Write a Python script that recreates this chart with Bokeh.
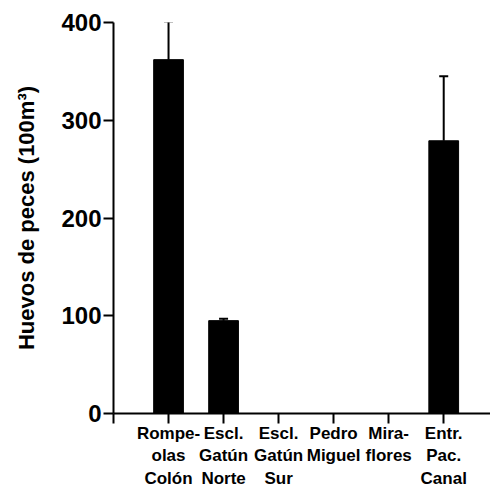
from bokeh.plotting import figure
from bokeh.models import Range1d, FixedTicker, Whisker, ColumnDataSource, TeeHead
from bokeh.embed import file_html
from bokeh.resources import INLINE

sites = ["Rompe-\nolas\nColón", "Escl.\nGatún\nNorte", "Escl.\nGatún\nSur",
         "Pedro\nMiguel", "Mira-\nflores", "Entr.\nPac.\nCanal"]
positions = [1, 2, 3, 4, 5, 6]
huevos = [362, 95, 0, 0, 0, 279]
error_sup = [401, 97, 0, 0, 0, 345]
y_ticks = [0, 100, 200, 300, 400]

p = figure(width=490, height=491, output_backend="svg", toolbar_location=None,
           x_range=Range1d(0, 6.85), y_range=Range1d(0, 400),
           min_border_left=113, min_border_top=22, min_border_bottom=76, min_border_right=0)
p.outline_line_color = None
p.xgrid.visible = False
p.ygrid.visible = False
p.background_fill_color = "white"

src = ColumnDataSource(dict(x=positions, top=huevos, upper=error_sup))
p.vbar(x="x", top="top", width=0.54, source=src, fill_color="black", line_color="black")

bars = [i for i, v in enumerate(huevos) if v > 0]
esrc = ColumnDataSource(dict(x=[positions[i] for i in bars],
                             lower=[huevos[i] for i in bars],
                             upper=[error_sup[i] for i in bars]))
w = Whisker(base="x", lower="lower", upper="upper", source=esrc, line_width=2, line_color="black",
            upper_head=TeeHead(size=9, line_width=2, line_color="black"), lower_head=None)
p.add_layout(w)

font = "Liberation Sans"
p.xaxis.ticker = FixedTicker(ticks=[0] + positions)
p.xaxis.major_label_overrides = {0: ""} | {pos: lab for pos, lab in zip(positions, sites)}
p.yaxis.ticker = FixedTicker(ticks=y_ticks)
for ax in (p.xaxis, p.yaxis):
    ax.axis_line_width = 2
    ax.axis_line_color = "black"
    ax.major_tick_line_width = 2
    ax.major_tick_line_color = "black"
    ax.major_tick_out = 10
    ax.major_tick_in = 0
    ax.minor_tick_line_color = None
    ax.major_label_text_font = font
    ax.major_label_text_font_style = "bold"
    ax.major_label_text_color = "black"

p.yaxis.major_label_text_font_size = "24px"
p.yaxis.major_label_standoff = 2
p.xaxis.major_label_text_font_size = "17px"
p.xaxis.major_label_standoff = 0
p.yaxis.axis_label = "Huevos de peces (100m³)"
p.yaxis.axis_label_text_font = font
p.yaxis.axis_label_text_font_style = "bold"
p.yaxis.axis_label_text_font_size = "22px"
p.yaxis.axis_label_standoff = 19
p.yaxis.axis_label_text_color = "black"

open("out.html", "w").write(file_html(p, INLINE))
